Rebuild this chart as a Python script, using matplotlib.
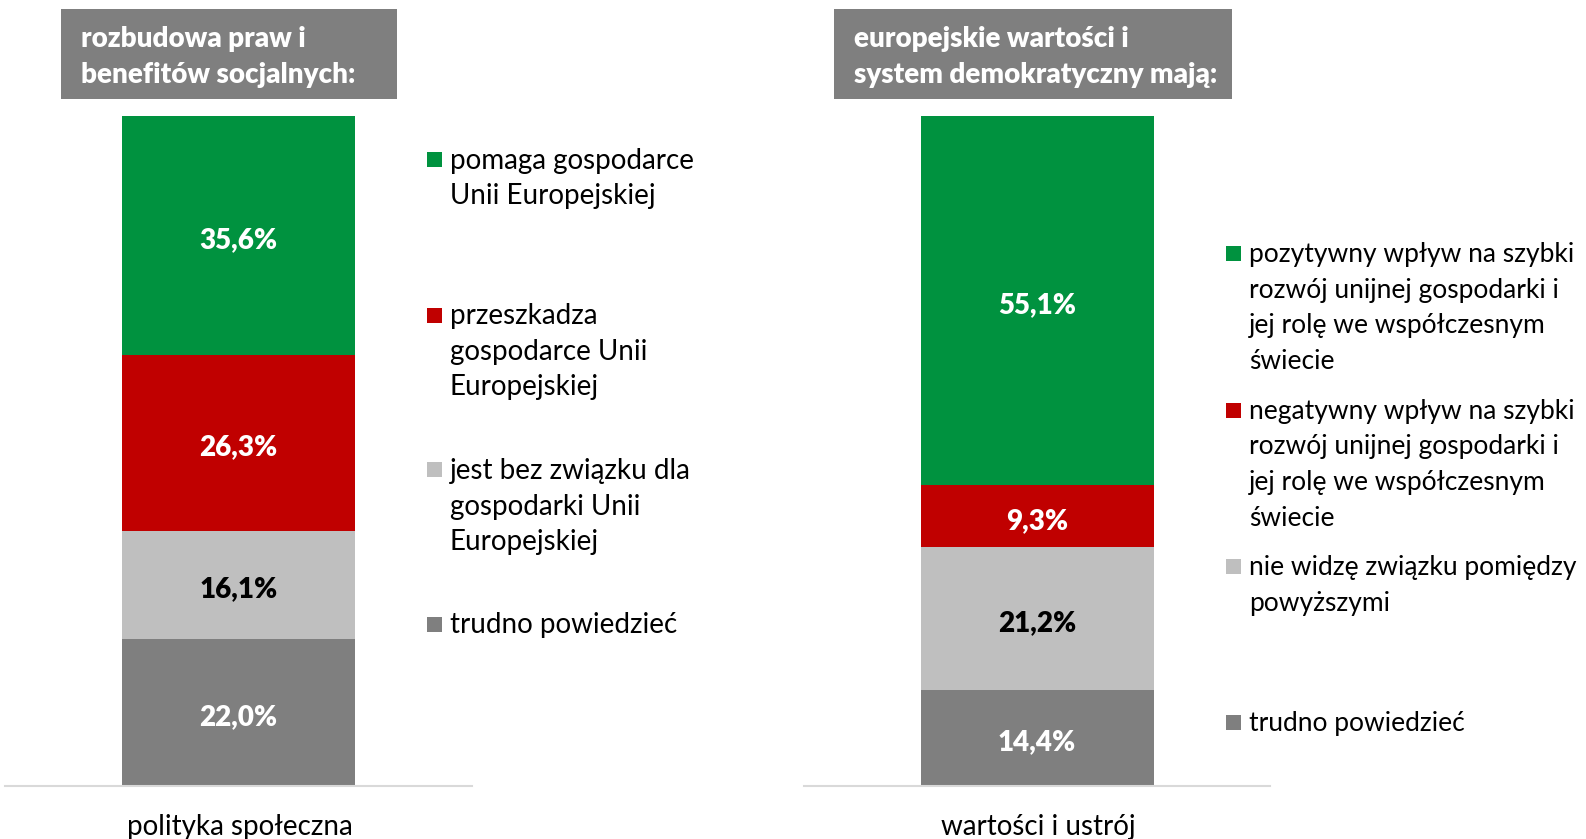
import matplotlib
matplotlib.use("Agg")
import matplotlib.pyplot as plt
from matplotlib.patches import Rectangle

plt.rcParams['font.family'] = ['Lato', 'DejaVu Sans']

W, H = 1586, 839

# data
categories = ["polityka społeczna", "wartości i ustrój"]
titles = ["rozbudowa praw i\nbenefitów socjalnych:",
          "europejskie wartości i\nsystem demokratyczny mają:"]
left_labels = ["pomaga gospodarce\nUnii Europejskiej",
               "przeszkadza\ngospodarce Unii\nEuropejskiej",
               "jest bez związku dla\ngospodarki Unii\nEuropejskiej",
               "trudno powiedzieć"]
right_labels = ["pozytywny wpływ na szybki\nrozwój unijnej gospodarki i\njej rolę we współczesnym\nświecie",
                "negatywny wpływ na szybki\nrozwój unijnej gospodarki i\njej rolę we współczesnym\nświecie",
                "nie widzę związku pomiędzy\npowyższymi",
                "trudno powiedzieć"]
left_values = [35.6, 26.3, 16.1, 22.0]
right_values = [55.1, 9.3, 21.2, 14.4]

colors = ["#00923F", "#C00000", "#BFBFBF", "#7F7F7F"]
label_colors = ["white", "white", "black", "white"]


def fx(px):
    return px / W


def fy(py):
    return 1 - py / H


fig = plt.figure(figsize=(W / 100, H / 100), dpi=100)

panels = [
    # axes x range in px, title box x range, legend marker x, legend first-line y
    dict(ax_x=(5, 472), box=(61, 397), legend_x=427, legend_y=[159, 314.6, 469.3, 624],
         legend_fs=20, values=left_values, labels=left_labels),
    dict(ax_x=(804, 1270), box=(834, 1232), legend_x=1226, legend_y=[253, 409.7, 566.4, 722.2],
         legend_fs=19, values=right_values, labels=right_labels),
]

bar_top, bar_bottom = 116, 786
line_h = 35.7
fs = 20
dy = 3.5  # visual offset of text centre (descender space)

for i, p in enumerate(panels):
    x0, x1 = p["ax_x"]
    ax = fig.add_axes([fx(x0), fy(bar_bottom), fx(x1 - x0), (bar_bottom - bar_top) / H])
    ax.set_xlim(0, 1)
    ax.set_ylim(0, 100)

    # stack from top down: first series on top
    vals = p["values"]
    top = 100
    for v, c, lc in zip(vals, colors, label_colors):
        ax.bar(0.5, v, bottom=top - v, width=0.5, color=c, edgecolor="none")
        ax.annotate(f"{v:.1f}%".replace(".", ","), (0.5, top - v / 2),
                    xytext=(0, -dy - 1), textcoords="offset pixels",
                    ha="center", va="center", color=lc, fontsize=fs, fontweight="heavy")
        top -= v

    for s in ["top", "left", "right"]:
        ax.spines[s].set_visible(False)
    ax.spines["bottom"].set_color("#D9D9D9")
    ax.spines["bottom"].set_linewidth(1.5)
    ax.set_xticks([])
    ax.set_yticks([])
    ax.patch.set_alpha(0)

    # category label under baseline
    fig.text(fx((x0 + x1) / 2 + 1), fy(824 + dy), categories[i], ha="center", va="center",
             fontsize=fs, color="black")

    # title box
    bx0, bx1 = p["box"]
    fig.patches.append(Rectangle((fx(bx0), fy(99)), fx(bx1 - bx0), (99 - 9) / H,
                                 transform=fig.transFigure, facecolor="#7F7F7F",
                                 edgecolor="none", zorder=0))
    for j, line in enumerate(titles[i].split("\n")):
        fig.text(fx(bx0 + 20), fy(37.5 + 1.5 + j * line_h), line, ha="left", va="center",
                 color="white", fontsize=fs, fontweight="heavy")

    # legend
    lx = p["legend_x"]
    for lab, c, ly in zip(p["labels"], colors, p["legend_y"]):
        fig.patches.append(Rectangle((fx(lx), fy(ly + 8)), fx(15), 15 / H,
                                     transform=fig.transFigure, facecolor=c,
                                     edgecolor="none"))
        for j, line in enumerate(lab.split("\n")):
            fig.text(fx(lx + 23), fy(ly + 1.5 + j * line_h), line, ha="left", va="center",
                     color="black", fontsize=p["legend_fs"])

fig.savefig("out.png", dpi=100)
